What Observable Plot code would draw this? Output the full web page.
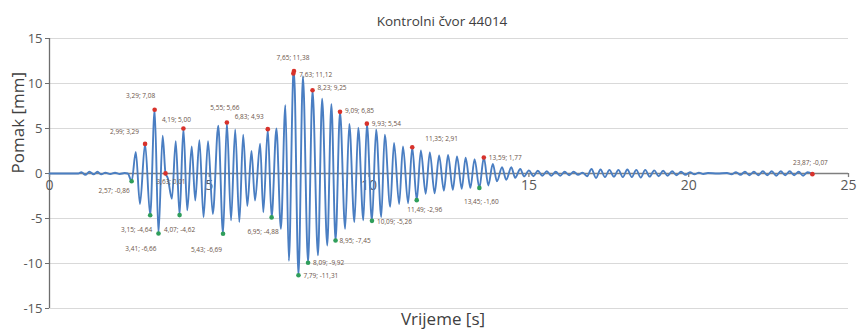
<!DOCTYPE html>
<html>
<head>
<meta charset="utf-8">
<script src="https://cdn.jsdelivr.net/npm/d3@7"></script>
<script src="https://cdn.jsdelivr.net/npm/@observablehq/plot@0.6"></script>
<style>
  html, body { margin: 0; padding: 0; background: #fff; }
  #chart { width: 858px; height: 336px; }
</style>
</head>
<body>
<div id="chart"></div>
<script>
// Displacement history of control node 44014: successive turning points of the response
const signalTime = [
  0, 0.9, 1.0, 1.12, 1.25, 1.38, 1.5, 1.62, 1.75, 1.9, 2.05, 2.2, 2.35, 2.45,
  2.57, 2.70, 2.83, 2.99, 3.15, 3.29, 3.41, 3.54, 3.63, 3.70, 3.83, 3.95, 4.07, 4.19,
  4.31, 4.45, 4.56, 4.69, 4.82, 4.96, 5.11, 5.28, 5.43, 5.55, 5.68, 5.81, 5.94, 6.06,
  6.19, 6.32, 6.43, 6.59, 6.69, 6.83, 6.95, 7.10, 7.24, 7.38, 7.49, 7.63, 7.65, 7.79,
  7.93, 8.09, 8.23, 8.40, 8.53, 8.69, 8.82, 8.95, 9.09, 9.25, 9.38, 9.54, 9.66, 9.82,
  9.93, 10.09, 10.22, 10.38, 10.49, 10.66, 10.78, 10.94, 11.06, 11.22, 11.35, 11.49,
  11.62, 11.77, 11.90, 12.05, 12.19, 12.34, 12.47, 12.62, 12.75, 12.90, 13.02, 13.17,
  13.30, 13.45, 13.59, 13.73, 13.87, 14.00, 14.16, 14.29, 14.45, 14.57, 14.73, 14.85,
  15.00, 15.14, 15.28, 15.42, 15.56, 15.70, 15.84, 15.98, 16.12, 16.26, 16.40, 16.54,
  16.68, 16.82, 16.96, 17.10, 17.24, 17.38, 17.52, 17.66, 17.80, 17.94, 18.08, 18.22,
  18.36, 18.50, 18.64, 18.78, 18.92, 19.06, 19.20, 19.34, 19.48, 19.62, 19.76, 19.90,
  20.04, 20.18, 20.32, 20.46, 20.60, 20.90, 21.20, 21.34, 21.48, 21.62, 21.76, 21.90,
  22.04, 22.18, 22.32, 22.46, 22.60, 22.74, 22.88, 23.02, 23.16, 23.30, 23.44, 23.58,
  23.72, 23.87
];
const signalValue = [
  0, 0, 0.15, -0.15, 0.2, -0.1, 0.2, -0.1, 0.1, -0.05, 0.08, -0.05, 0.05, 0,
  -0.86, 2.4, -3.4, 3.29, -4.64, 7.08, -6.66, 4.2, 0.01, -0.5, -2.8, 3.6, -4.62, 5.00,
  -4.1, 3.0, -3.0, 3.7, -4.85, 3.6, -4.5, 5.3, -6.69, 5.66, -5.2, 4.9, -5.4, 4.3,
  -3.6, 2.5, -3.0, 3.3, -4.3, 4.93, -4.88, 5.0, -6.15, 7.6, -9.7, 11.12, 11.38, -11.31,
  10.8, -9.92, 9.25, -9.1, 8.3, -8.0, 7.7, -7.45, 6.85, -6.15, 5.5, -5.4, 5.1, -5.2,
  5.54, -5.26, 4.9, -4.85, 4.3, -3.7, 3.4, -3.4, 3.0, -3.3, 2.91, -2.96,
  2.55, -2.25, 2.35, -2.2, 2.0, -1.9, 2.05, -1.8, 1.9, -1.7, 1.75, -1.6,
  1.6, -1.60, 1.77, -1.33, 1.07, -0.86, 0.7, -0.7, 0.7, -0.48, 0.5, -0.33,
  0.35, -0.3, 0.3, -0.25, 0.25, -0.25, 0.2, -0.25, 0.2, -0.2, 0.2, -0.15,
  0.1, -0.3, 0.5, -0.5, 0.45, -0.4, 0.4, -0.35, 0.4, -0.4, 0.45, -0.4,
  0.4, -0.45, 0.4, -0.35, 0.35, -0.3, 0.3, -0.25, 0.25, -0.2, 0.2, -0.15,
  0.15, -0.1, 0.1, -0.05, 0.05, 0, 0.05, -0.1, 0.15, -0.15, 0.2, -0.2,
  0.2, -0.2, 0.25, -0.2, 0.25, -0.25, 0.25, -0.2, 0.25, -0.2, 0.2, -0.25,
  0.15, -0.07
];

// Annotated local maxima (red) and minima (green)
const maxTime  = [2.99, 3.29, 3.63, 4.19, 5.55, 6.83, 7.65, 7.63, 8.23, 9.09, 9.93, 11.35, 13.59, 23.87];
const maxValue = [3.29, 7.08, 0.01, 5.00, 5.66, 4.93, 11.38, 11.12, 9.25, 6.85, 5.54, 2.91, 1.77, -0.07];
const minTime  = [2.57, 3.15, 3.41, 4.07, 5.43, 6.95, 7.79, 8.09, 8.95, 10.09, 11.49, 13.45];
const minValue = [-0.86, -4.64, -6.66, -4.62, -6.69, -4.88, -11.31, -9.92, -7.45, -5.26, -2.96, -1.60];

// Axis ticks
const xTicks = [0, 5, 10, 15, 20, 25];
const yTicks = [-15, -10, -5, 0, 5, 10, 15];

const title = "Kontrolni čvor 44014";
const xLabel = "Vrijeme [s]";
const yLabel = "Pomak [mm]";

// Label placement for each annotated point: [textAnchor, dx, dy]
const maxPlacement = [
  ["end", -6, -12], ["middle", -14, -14], ["start", -9, 8], ["middle", -7, -9],
  ["middle", -2, -15], ["end", -4, -12], ["middle", -1, -13], ["start", 6, 1],
  ["start", 5, -2], ["start", 5, -1], ["start", 5, 0], ["start", 13, -8],
  ["start", 5, 0], ["middle", -2, -11]
];
const minPlacement = [
  ["end", -2, 10], ["end", 2, 15], ["end", -2, 15], ["middle", 0, 15],
  ["end", -1, 16], ["end", 7, 14], ["start", 5, 1], ["start", 5, 0],
  ["start", 4, 0], ["start", 5, 1], ["middle", 8, 10], ["middle", 2, 14]
];

const fmt = v => v.toFixed(2).replace(".", ",");
const signal = signalTime.map((t, i) => ({t, v: signalValue[i]}));
const maxima = maxTime.map((t, i) => ({t, v: maxValue[i], p: maxPlacement[i]}));
const minima = minTime.map((t, i) => ({t, v: minValue[i], p: minPlacement[i]}));

// Plot.text's dx/dy are constants, so split each set by offset
function placedLabels(data, color) {
  const byKey = d3.groups(data, d => d.p.join("|"));
  return byKey.map(([, rows]) => Plot.text(rows, {
    x: "t", y: "v",
    text: d => `${fmt(d.t)}; ${fmt(d.v)}`,
    textAnchor: rows[0].p[0],
    dx: rows[0].p[1], dy: rows[0].p[2],
    fontSize: 6.5,
    fill: color
  }));
}

const chart = Plot.plot({
  width: 858,
  height: 336,
  marginLeft: 49,
  marginRight: 10,
  marginTop: 38,
  marginBottom: 28,
  style: {fontFamily: "'Open Sans', 'Noto Sans', sans-serif", background: "#fff", overflow: "visible"},
  x: {type: "linear", domain: [0, 25], axis: null},
  y: {type: "linear", domain: [-15, 15], axis: null},
  marks: [
    // horizontal gridlines
    Plot.ruleY(yTicks.filter(d => d !== 0), {stroke: "#d9d9d9", strokeWidth: 1.2}),
    // value axis on the left
    Plot.ruleX([0], {stroke: "#6e6e6e", strokeWidth: 1.3}),
    Plot.axisY({
      ticks: yTicks, tickSize: 4, tickPadding: 3, label: null,
      tickFormat: d => String(d), fontSize: 13, color: "#595959", stroke: "#6e6e6e"
    }),
    // time axis crossing at zero, with short ticks below it
    Plot.ruleY([0], {stroke: "#7f7f7f", strokeWidth: 1.5}),
    Plot.ruleX(xTicks, {x: d => d, y1: 0, y2: -0.45, stroke: "#7f7f7f", strokeWidth: 1.3}),
    Plot.text(xTicks, {x: d => d, y: 0, text: d => String(d), dy: 12, fontSize: 14, fill: "#595959"}),
    // displacement series
    Plot.line(signal, {x: "t", y: "v", curve: "monotone-x", stroke: "#4a7ec2", strokeWidth: 1.9}),
    // annotated extremes
    Plot.dot(maxima, {x: "t", y: "v", r: 2.3, fill: "#d8322b"}),
    Plot.dot(minima, {x: "t", y: "v", r: 2.3, fill: "#2f9e5a"}),
    ...placedLabels(maxima, "#6a5448"),
    ...placedLabels(minima, "#6a5448"),
    // titles
    Plot.text([title], {frameAnchor: "top", dx: -7, dy: -22, fontSize: 13.5, fill: "#404040"}),
    Plot.text([xLabel], {frameAnchor: "bottom", dx: -6, dy: 16, fontSize: 17, fill: "#404040"}),
    Plot.text([yLabel], {frameAnchor: "left", dx: -31, rotate: -90, fontSize: 17, fill: "#404040"})
  ]
});

document.getElementById("chart").append(chart);
</script>
</body>
</html>
